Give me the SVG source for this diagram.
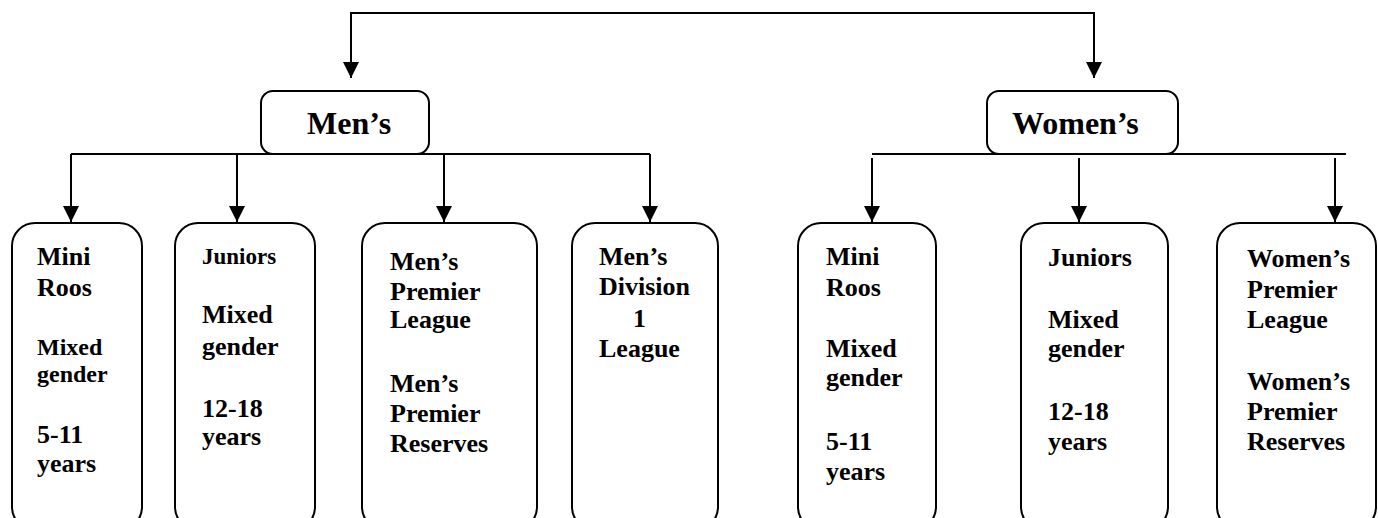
<svg xmlns="http://www.w3.org/2000/svg" width="1378" height="518" viewBox="0 0 1378 518" font-family="'Liberation Serif', 'Times New Roman', Tinos, 'DejaVu Serif', serif">
<style>
.box{fill:#fff;stroke:#000;stroke-width:2}
.ln{fill:none;stroke:#000;stroke-width:2}
.ar{fill:none;stroke:#000;stroke-width:2;marker-end:url(#ah)}
text{font-family:'Liberation Serif','Times New Roman',Tinos,'DejaVu Serif',serif;font-weight:700;fill:#000}
.t{font-size:26px}
.s{font-size:24px}
.j{font-size:23px}
.h{font-size:32px}
</style>
<defs>
<marker id="ah" viewBox="0 0 16 16" refX="16" refY="8" markerWidth="16" markerHeight="16" markerUnits="userSpaceOnUse" orient="auto">
<path d="M0,0 L16,8 L0,16 z" fill="#000"/>
</marker>
</defs>
<g id="connectors">
<path class="ln" d="M351,13 H1094"/>
<path class="ar" d="M351,12 V78"/>
<path class="ar" d="M1094,12 V78"/>
<path class="ln" d="M71,154 H650"/>
<path class="ar" d="M71,154 V222"/>
<path class="ar" d="M237,154 V222"/>
<path class="ar" d="M444,154 V222"/>
<path class="ar" d="M650,154 V222"/>
<path class="ln" d="M872,154 H1346"/>
<path class="ar" d="M872,158 V222"/>
<path class="ar" d="M1079,158 V222"/>
<path class="ar" d="M1335,158 V222"/>
</g>
<g id="mens">
<rect class="box" x="261" y="91" width="168" height="63" rx="12" ry="12"/>
<text class="h" x="307" y="134">Men’s</text>
</g>
<g id="womens">
<rect class="box" x="987" y="91" width="191" height="63" rx="12" ry="12"/>
<text class="h" x="1012" y="134">Women’s</text>
</g>
<g id="men-miniroos">
<rect class="box" x="12" y="223" width="130" height="307" rx="23" ry="23"/>
<text class="t" x="37" y="265">Mini</text>
<text class="t" x="37" y="296">Roos</text>
<text class="s" x="37" y="355">Mixed</text>
<text class="s" x="37" y="382">gender</text>
<text class="t" x="37" y="443">5-11</text>
<text class="t" x="37" y="472">years</text>
</g>
<g id="men-juniors">
<rect class="box" x="175" y="223" width="140" height="307" rx="23" ry="23"/>
<text class="j" x="202" y="264">Juniors</text>
<text class="t" x="202" y="323">Mixed</text>
<text class="t" x="202" y="355">gender</text>
<text class="t" x="202" y="417">12-18</text>
<text class="t" x="202" y="445">years</text>
</g>
<g id="men-premier">
<rect class="box" x="362" y="223" width="175" height="307" rx="23" ry="23"/>
<text class="t" x="390" y="270">Men’s</text>
<text class="t" x="390" y="300">Premier</text>
<text class="t" x="390" y="328">League</text>
<text class="t" x="390" y="392">Men’s</text>
<text class="t" x="390" y="422">Premier</text>
<text class="t" x="390" y="452">Reserves</text>
</g>
<g id="men-division1">
<rect class="box" x="572" y="223" width="146" height="307" rx="23" ry="23"/>
<text class="t" x="599" y="265">Men’s</text>
<text class="t" x="599" y="295">Division</text>
<text class="t" x="633" y="327">1</text>
<text class="t" x="599" y="357">League</text>
</g>
<g id="women-miniroos">
<rect class="box" x="798" y="223" width="138" height="307" rx="23" ry="23"/>
<text class="t" x="826" y="265">Mini</text>
<text class="t" x="826" y="296">Roos</text>
<text class="t" x="826" y="357">Mixed</text>
<text class="t" x="826" y="386">gender</text>
<text class="t" x="826" y="450">5-11</text>
<text class="t" x="826" y="480">years</text>
</g>
<g id="women-juniors">
<rect class="box" x="1021" y="223" width="147" height="307" rx="23" ry="23"/>
<text class="t" x="1048" y="266">Juniors</text>
<text class="t" x="1048" y="328">Mixed</text>
<text class="t" x="1048" y="357">gender</text>
<text class="t" x="1048" y="420">12-18</text>
<text class="t" x="1048" y="450">years</text>
</g>
<g id="women-premier">
<rect class="box" x="1217" y="223" width="159" height="307" rx="23" ry="23"/>
<text class="t" x="1247" y="267">Women’s</text>
<text class="t" x="1247" y="298">Premier</text>
<text class="t" x="1247" y="328">League</text>
<text class="t" x="1247" y="390">Women’s</text>
<text class="t" x="1247" y="420">Premier</text>
<text class="t" x="1247" y="450">Reserves</text>
</g>
</svg>
